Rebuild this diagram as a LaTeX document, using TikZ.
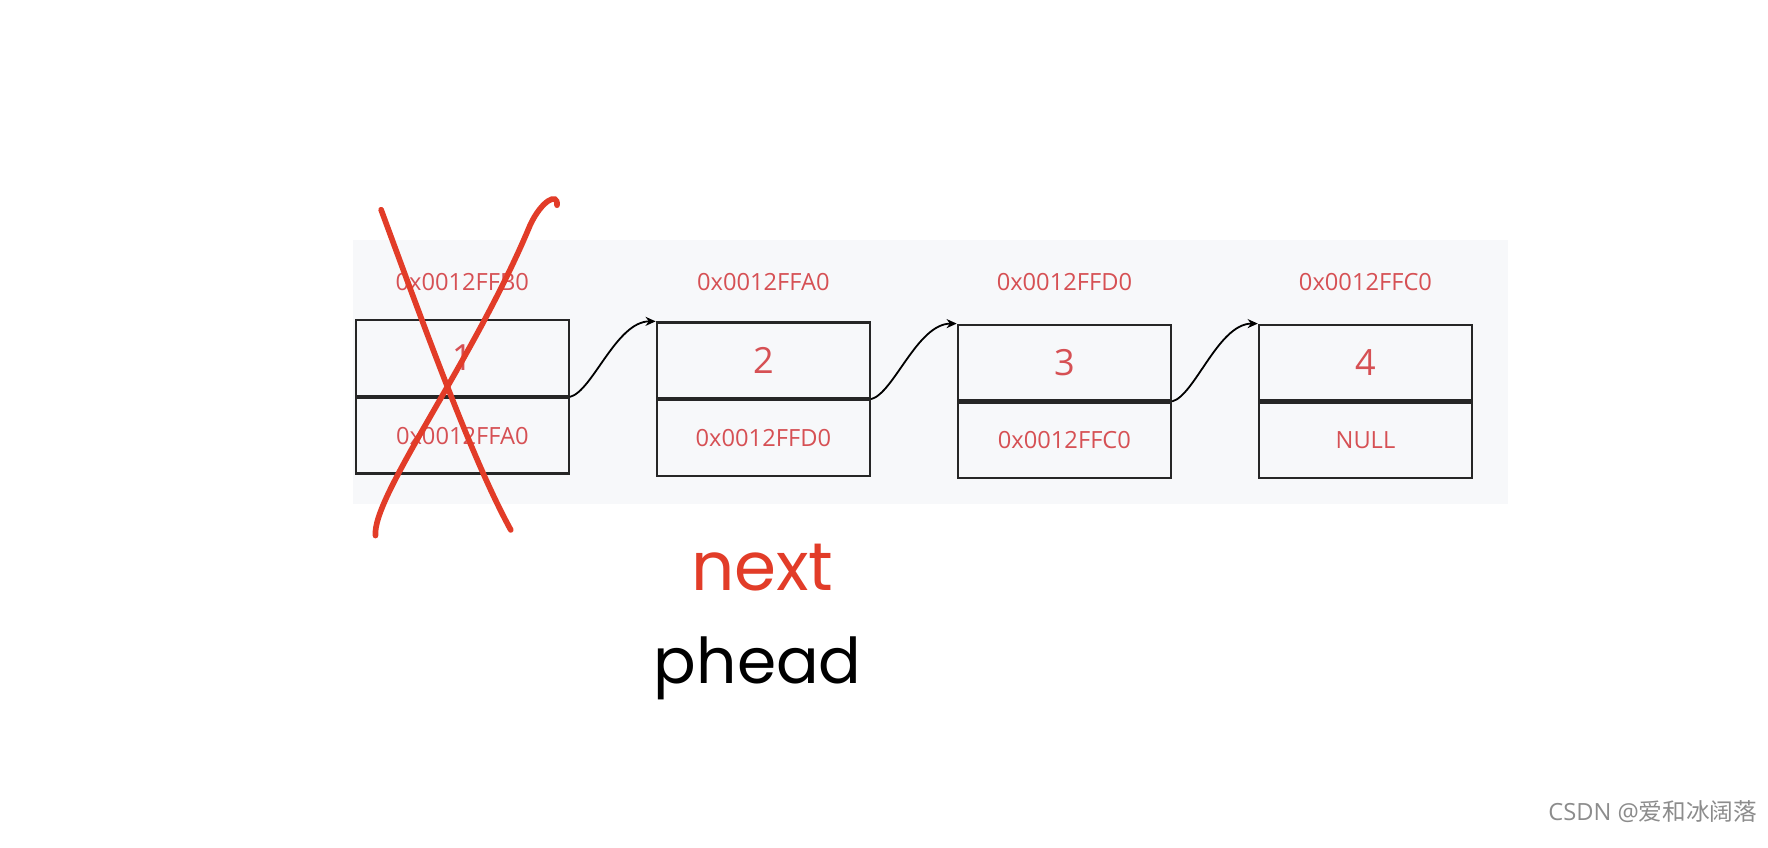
\documentclass[tikz,border=0pt]{standalone}
\usepackage{fontspec}
\usetikzlibrary{arrows.meta}
\setmainfont{Open Sans}
\newfontfamily\cjk{Noto Sans CJK SC}
\newfontfamily\hand{Poppins}
\definecolor{bgc}{RGB}{247,248,250}
\definecolor{xred}{RGB}{226,60,40}
\definecolor{ared}{RGB}{214,80,84}
\begin{document}
\begin{tikzpicture}[x=1pt,y=-1pt,
  addr/.style={text=ared, font=\fontsize{21}{21}\selectfont},
  num/.style={text=ared, font=\fontsize{32}{32}\selectfont},
  cell/.style={draw=black!85, line width=2pt, minimum width=189pt, minimum height=67pt, inner sep=0pt},
  link/.style={line width=1.6pt, -{Stealth[length=9pt,width=8pt]}},
  cross/.style={draw=xred, line width=5pt, line cap=round}]
\useasboundingbox (0,0) rectangle (1568,752);
\fill[white] (0,0) rectangle (1568,752);
\fill[bgc] (313,213) rectangle (1337,447);
\foreach \i/\x/\y/\n/\a/\b in {1/410/283/1/0x0012FFB0/0x0012FFA0, 2/677/285/2/0x0012FFA0/0x0012FFD0, 3/944/287/3/0x0012FFD0/0x0012FFC0, 4/1211/287/4/0x0012FFC0/NULL}{
  \node[cell, anchor=north] (t\i) at (\x,\y) {};
  \node[cell, anchor=north] (b\i) at (t\i.south) {};
  \node[num] (n\i) at (t\i.center) {\n};
  \node[addr] (l\i) at (b\i.center) {\b};
  \node[addr] (h\i) at (\x,250) {\a};
}
\foreach \i/\j in {1/2,2/3,3/4}{
  \draw[link] (t\i.south east) .. controls +(20,-5) and +(-35,0) .. (t\j.north west);
}
\draw[cross] (338,186) .. controls (380,300) and (420,410) .. (453,470);
\draw[cross] (333,475) .. controls (330,440) and (420,320) .. (470,200) .. controls (480,178) and (495,170) .. (494,182);
\node[text=xred, font=\hand\fontsize{60}{60}\selectfont] (next) at (676,503) {next};
\node[font=\hand\fontsize{56}{56}\selectfont] (phead) at (672,593) {phead};
\node[text=black!45, font=\fontsize{21}{21}\selectfont, anchor=east] (wm) at (1562,720) {CSDN @{\cjk 爱和冰阔落}};
\end{tikzpicture}
\end{document}
